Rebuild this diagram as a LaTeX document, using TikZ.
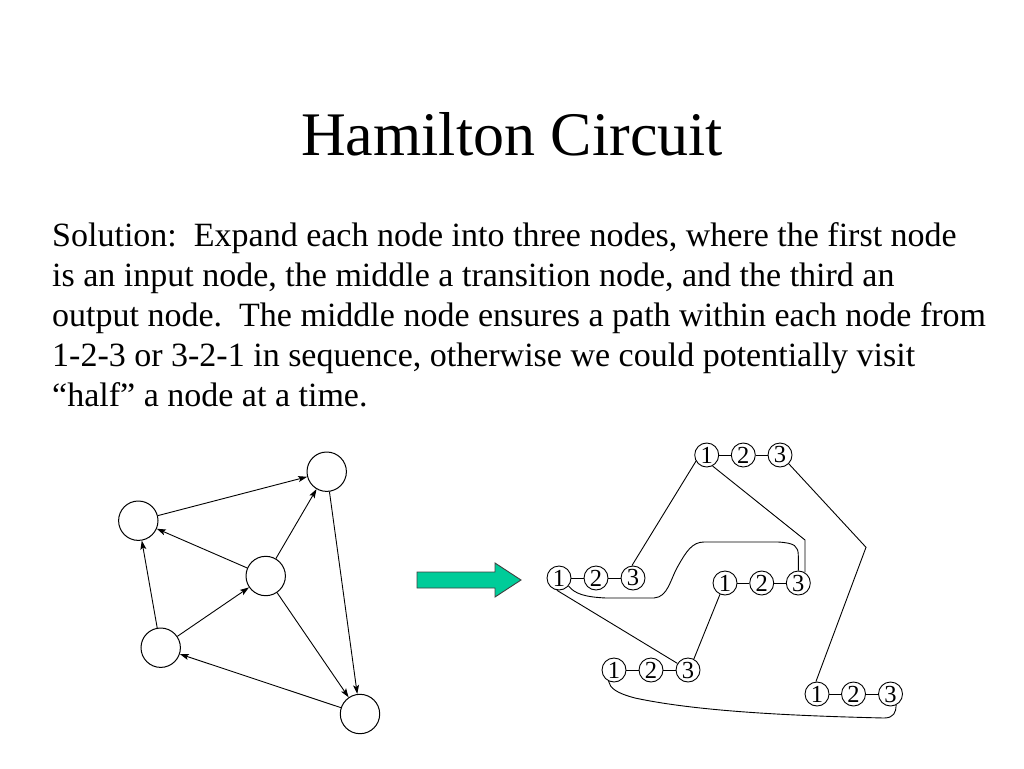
\documentclass[tikz,border=0pt]{standalone}
\usepackage{fontspec}
\setmainfont{Liberation Serif}
\usetikzlibrary{arrows.meta}
\definecolor{arrowgreen}{RGB}{0,204,153}
\begin{document}
\begin{tikzpicture}[x=1pt,y=-1pt,
  big/.style={circle,draw,line width=1pt,minimum size=39.4pt,inner sep=0pt},
  small/.style={circle,draw,line width=0.9pt,minimum size=24pt,inner sep=0pt,font=\fontsize{24.5}{24.5}\selectfont},
  arr/.style={-{Stealth[length=9pt,width=6pt,inset=2pt]},line width=0.9pt},
  ln/.style={line width=0.9pt},
  body/.style={anchor=base west,inner sep=0pt,font=\fontsize{34}{40}\selectfont\frenchspacing}]
\useasboundingbox[fill=white] (0,0) rectangle (1024,768);
% title
\node[anchor=base,inner sep=0pt,font=\fontsize{62}{70}\selectfont] (title) at (512,155) {Hamilton Circuit};
% body text
\node[body] (l1) at (52,246.5) {Solution:\ \ Expand each node into three nodes, where the first node};
\node[body] (l2) at (52,286.7) {is an input node, the middle a transition node, and the third an};
\node[body] (l3) at (52,326.7) {output node.\ \ The middle node ensures a path within each node from};
\node[body] (l4) at (52,366.7) {1-2-3 or 3-2-1 in sequence, otherwise we could potentially visit};
\node[body] (l5) at (52,406.7) {“half” a node at a time.};
% left graph
\node[big] (A) at (326.7,471.7) {};
\node[big] (B) at (138.3,520.7) {};
\node[big] (C) at (265.7,576) {};
\node[big] (D) at (160.7,647.7) {};
\node[big] (E) at (360,714) {};
\draw[arr] (B) -- (A);
\draw[arr] (C) -- (B);
\draw[arr] (C) -- (A);
\draw[arr] (D) -- (B);
\draw[arr] (D) -- (C);
\draw[arr] (C) -- (E);
\draw[arr] (A) -- (E);
\draw[arr] (E) -- (D);
% green arrow
\draw[fill=arrowgreen,draw=black!75,line width=0.9pt] (417,572) -- (495,572) -- (495,563) -- (521,580) -- (495,597) -- (495,588) -- (417,588) -- cycle;
% right graph
\node[small] (T1) at (706.7,455) {1};
\node[small] (T2) at (743.3,455) {2};
\node[small] (T3) at (780,455) {3};
\node[small] (L1) at (559,578) {1};
\node[small] (L2) at (596,578) {2};
\node[small] (L3) at (633,578) {3};
\node[small] (M1) at (725,583) {1};
\node[small] (M2) at (761.7,583) {2};
\node[small] (M3) at (798.3,583) {3};
\node[small] (P1) at (614,670) {1};
\node[small] (P2) at (651,670) {2};
\node[small] (P3) at (688,670) {3};
\node[small] (Q1) at (817,694) {1};
\node[small] (Q2) at (853.5,694) {2};
\node[small] (Q3) at (890.5,694) {3};
\foreach \g in {T,L,M,P,Q}{
  \draw[ln] (\g1) -- (\g2);
  \draw[ln] (\g2) -- (\g3);
}
\coordinate (k2) at (805,540);
\coordinate (k3) at (866,547.3);
\draw[ln] (T1.210) -- (L3.95);
\draw[ln] (T1.-62) -- (k2) -- (k2 |- M3.58);
\draw[ln] (T3.-45) -- (k3) -- (Q1.95);
\draw[ln] (L1.-40) .. controls (575,594) and (585,597) .. (606,598) -- (654,598)
  .. controls (668,597) and (670,580) .. (678,566)
  .. controls (686,552) and (692,542) .. (704,542) -- (778,542)
  .. controls (795,543) and (798.3,546) .. (798.3,556) -- (M3.north);
\draw[ln] (L1.-100) -- (P3.148);
\draw[ln] (M1.-114) -- (P3.62);
\draw[ln] (P1.-116) .. controls (610,688) and (616,693) .. (635,698)
  .. controls (700,712) and (800,716) .. (884,718)
  .. controls (894,718) and (896,712) .. (Q3.-63);
\end{tikzpicture}
\end{document}
